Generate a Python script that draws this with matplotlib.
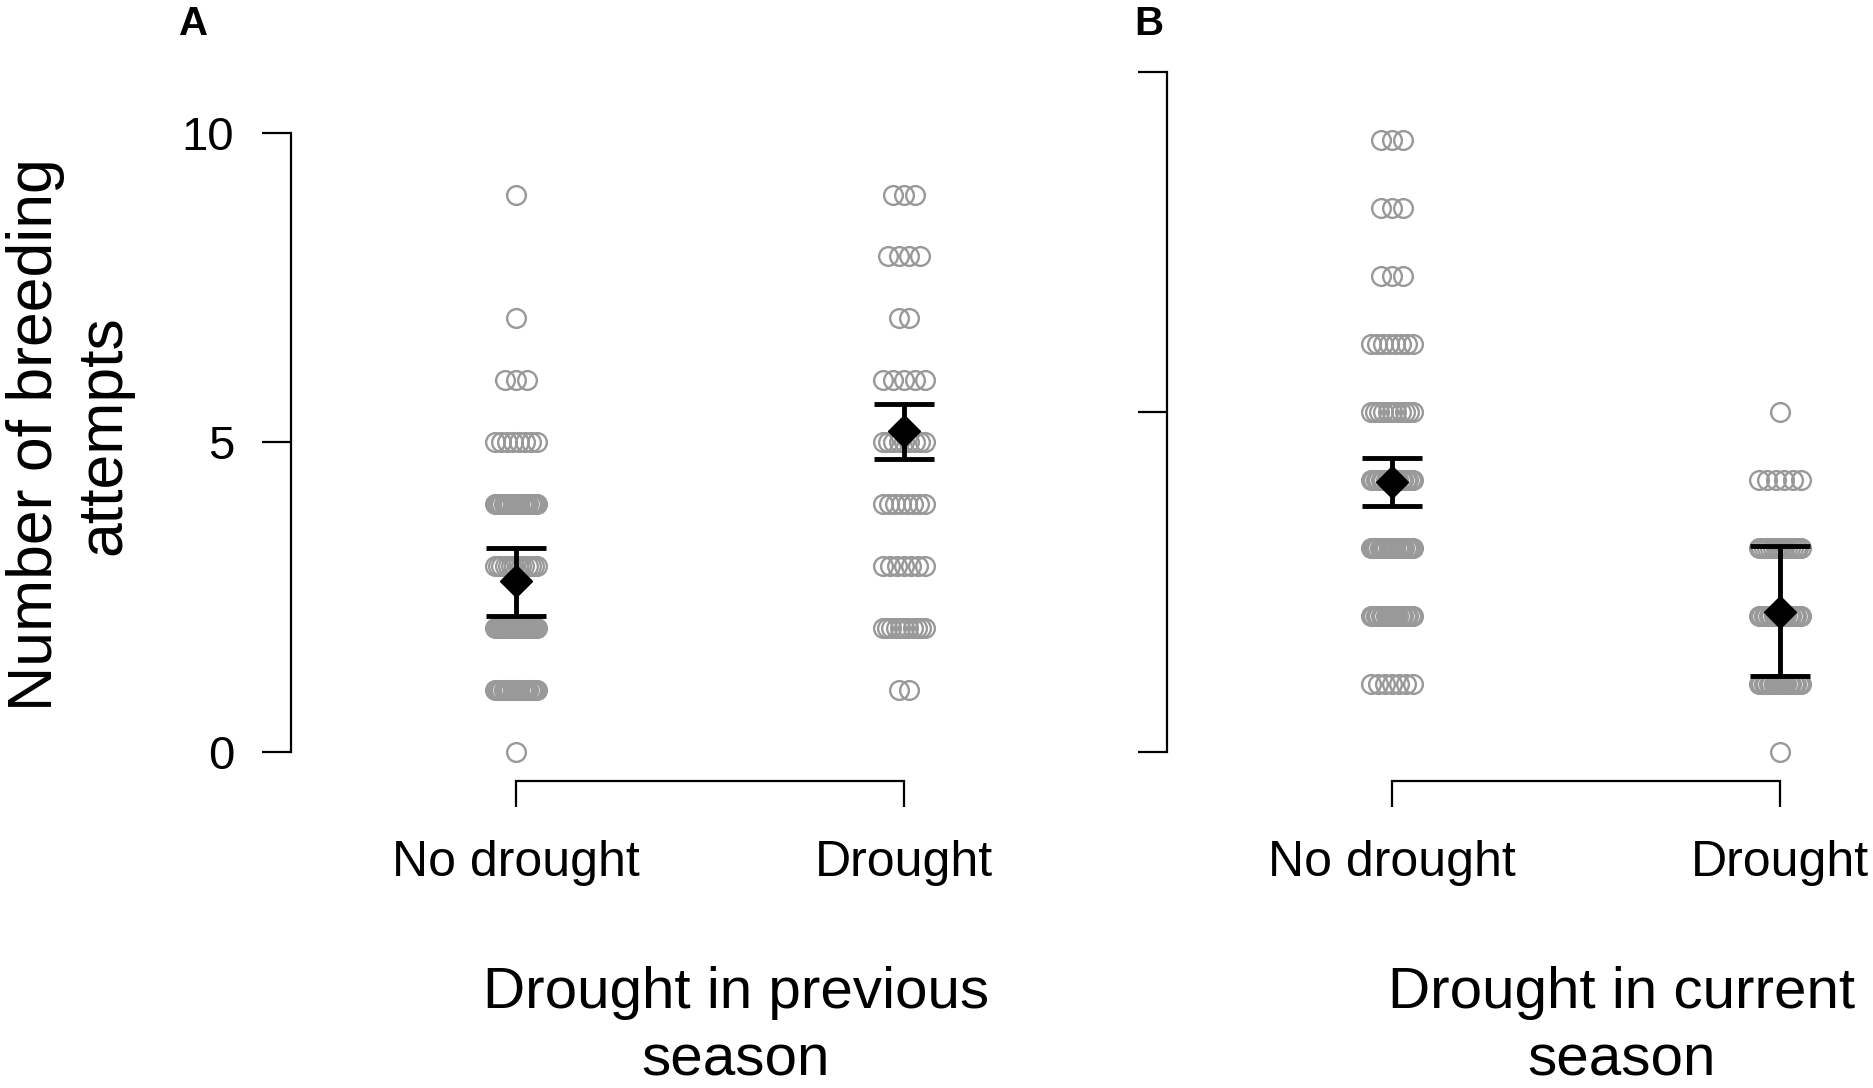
import numpy as np
import matplotlib
matplotlib.use('Agg')
import matplotlib.pyplot as plt

plt.rcParams['font.family'] = ['Liberation Sans', 'DejaVu Sans']

categories = ['No drought', 'Drought']

# panel A: drought in previous season (value levels and how many birds at each)
levels_a_no = [0, 1, 2, 3, 4, 5, 6, 7, 9]
counts_a_no = [1, 20, 22, 14, 20, 8, 3, 1, 1]
levels_a_dr = [1, 2, 3, 4, 5, 6, 7, 8, 9]
counts_a_dr = [2, 11, 7, 8, 9, 5, 2, 4, 3]
mean_a = [2.76, 5.18]
lo_a = [2.19, 4.73]
hi_a = [3.29, 5.61]

# panel B: drought in current season
levels_b_no = [1, 2, 3, 4, 5, 6, 7, 8, 9]
counts_b_no = [7, 18, 20, 18, 11, 8, 3, 3, 3]
levels_b_dr = [0, 1, 2, 3, 4, 5]
counts_b_dr = [1, 18, 18, 16, 6, 1]
mean_b = [3.98, 2.06]
lo_b = [3.62, 1.12]
hi_b = [4.32, 3.03]

W, H = 1873, 1088
GREY = '#999999'


def spread(levels, counts, pos):
    # spread the points of one level sideways so they stay visible
    xs, ys = [], []
    for v, n in zip(levels, counts):
        half = 0.055 * min(1.0, (n - 1) / 4)
        xs.extend(pos + np.linspace(-half, half, n))
        ys.extend([v] * n)
    return xs, ys


def setup(ax, xlim, ylim, ylabels=True):
    ax.set_xlim(*xlim)
    ax.set_ylim(*ylim)
    for s in ['top', 'right']:
        ax.spines[s].set_visible(False)
    ax.spines['left'].set_bounds(0, 10)
    ax.spines['bottom'].set_bounds(0, 1)
    for s in ['left', 'bottom']:
        ax.spines[s].set_linewidth(1.6)
    ax.set_xticks([0, 1])
    ax.set_xticklabels(categories)
    ax.set_yticks([0, 5, 10])
    ax.tick_params(axis='x', length=18.7, width=1.6, pad=24, labelsize=36)
    ax.tick_params(axis='y', length=21, width=1.6, pad=20, labelsize=34)
    if not ylabels:
        ax.set_yticklabels([])
    ax.patch.set_visible(False)


def panel(ax, groups, mean, lo, hi):
    for pos, (lev, cnt) in enumerate(groups):
        xs, ys = spread(lev, cnt, pos)
        ax.plot(xs, ys, 'o', mfc='none', mec=GREY, mew=1.7, ms=13.5,
                clip_on=False, zorder=2)
    mean = np.array(mean)
    yerr = [mean - np.array(lo), np.array(hi) - mean]
    ax.errorbar([0, 1], mean, yerr=yerr, fmt='none', ecolor='black',
                elinewidth=3.5, capsize=21.5, capthick=3.5, zorder=3)
    ax.plot([0, 1], mean, 'D', color='black', ms=16.5, zorder=4)


fig = plt.figure(figsize=(W / 100, H / 100), dpi=100)

axA = fig.add_axes([291 / W, 1 - 781 / H, (1100 - 291) / W, (781 - 114) / H])
setup(axA, (-0.58, 1.505), (-0.47, 10.3))
panel(axA, [(levels_a_no, counts_a_no), (levels_a_dr, counts_a_dr)],
      mean_a, lo_a, hi_a)

axB = fig.add_axes([1167 / W, 1 - 781 / H, (W - 1167) / W, (781 - 52) / H])
setup(axB, (-0.58, 1.24), (-0.426, 10.3), ylabels=False)
panel(axB, [(levels_b_no, counts_b_no), (levels_b_dr, counts_b_dr)],
      mean_b, lo_b, hi_b)

fig.text(70 / W, 1 - 435 / H, 'Number of breeding\nattempts', rotation=90,
         ha='center', va='center', fontsize=45, linespacing=1.2)
fig.text(736 / W, 1 - 966 / H, 'Drought in previous\nseason',
         ha='center', va='top', fontsize=42, linespacing=1.32)
fig.text(1622 / W, 1 - 966 / H, 'Drought in current\nseason',
         ha='center', va='top', fontsize=42, linespacing=1.32)

fig.text(194 / W, 1 - 24 / H, 'A', ha='center', va='center',
         fontsize=29, fontweight='bold')
fig.text(1149 / W, 1 - 24 / H, 'B', ha='center', va='center',
         fontsize=29, fontweight='bold')

fig.savefig('out.png', dpi=100)
